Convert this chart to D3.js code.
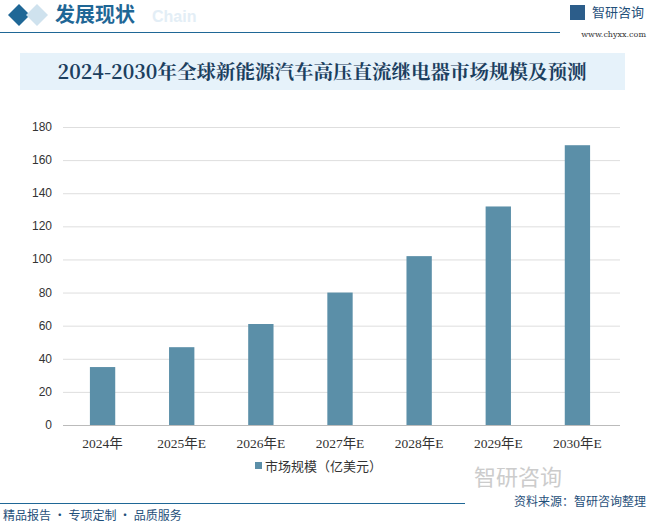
<!DOCTYPE html>
<html><head><meta charset="utf-8">
<script src="https://cdn.jsdelivr.net/npm/d3@7"></script>
<style>body{margin:0;background:#fff;font-family:"Noto Sans CJK SC","Noto Sans",sans-serif}</style>
</head><body><svg width="648" height="525"></svg>
<script>
var WIDTH = 648, HEIGHT = 525;
var years = ["2024年","2025年E","2026年E","2027年E","2028年E","2029年E","2030年E"];
var marketSize = [35, 47, 61, 80, 102, 132, 169];
var yTicks = [0,20,40,60,80,100,120,140,160,180];

var svg = d3.select("svg");
var cjk = "Noto Sans CJK SC";

//header
svg.append("path").attr("d","M8,15 L19,4 L30,15 L19,26 Z").attr("fill","#1f6796");
svg.append("path").attr("d","M26,15 L37,4 L48,15 L37,26 Z").attr("fill","#cfe2ee");
svg.append("text").attr("x",152).attr("y",22).text("Chain").attr("fill","#e3eef6")
  .style("font-family","Liberation Sans").style("font-weight","bold").style("font-size","16px");
svg.append("text").attr("x",55).attr("y",22).text("发展现状").attr("fill","#1f6796")
  .style("font-family",cjk).style("font-weight","bold").style("font-size","20px");
svg.append("line").attr("x1",0).attr("x2",560).attr("y1",32.5).attr("y2",32.5).attr("stroke","#1f6796").attr("stroke-width",1.2);
svg.append("text").attr("x",592).attr("y",17).text("智研咨询").attr("fill","#1f4f7a")
  .style("font-family",cjk).style("font-size","13px");
svg.append("rect").attr("x",570).attr("y",5).attr("width",15).attr("height",15).attr("fill","#2c5d8a");
svg.append("text").attr("x",646).attr("y",37).attr("text-anchor","end").text("www.chyxx.com").attr("fill","#333")
  .style("font-family","DejaVu Serif").style("font-size","8px");

//title box
svg.append("rect").attr("x",20).attr("y",53).attr("width",605).attr("height",37).attr("fill","#e6f2fa");
svg.append("text").attr("x",322).attr("y",79).attr("text-anchor","middle")
  .text("2024-2030年全球新能源汽车高压直流继电器市场规模及预测").attr("fill","#1c3f5f")
  .style("font-family","Noto Serif CJK SC, "+cjk).style("font-weight","bold").style("font-size","19.5px");

//chart
var x = d3.scaleBand().domain(years).range([63, 617]).paddingInner(0.68).paddingOuter(0.34);
var y = d3.scaleLinear().domain([0,180]).range([425, 127]);

svg.append("g").selectAll("line").data(yTicks).enter().append("line")
  .attr("x1",63).attr("x2",620).attr("y1",d=>y(d)+0.5).attr("y2",d=>y(d)+0.5)
  .attr("stroke",d=>d===0?"#bbb":"#dedede");

svg.append("g").selectAll("text").data(yTicks).enter().append("text")
  .attr("x",52).attr("y",d=>y(d)+4).attr("text-anchor","end").text(d=>d)
  .attr("fill","#333").style("font-family","Liberation Sans").style("font-size","12px");

svg.append("g").selectAll("rect").data(marketSize).enter().append("rect")
  .attr("x",(d,i)=>x(years[i])).attr("width",x.bandwidth())
  .attr("y",d=>y(d)).attr("height",d=>y(0)-y(d)).attr("fill","#5b8fa8");

svg.append("g").selectAll("text").data(years).enter().append("text")
  .attr("x",d=>x(d)+x.bandwidth()/2).attr("y",448).attr("text-anchor","middle").text(d=>d)
  .attr("fill","#333").style("font-family","Liberation Serif, "+cjk).style("font-size","13.5px");

//legend
svg.append("rect").attr("x",255).attr("y",462).attr("width",7).attr("height",7).attr("fill","#5b8fa8");
svg.append("text").attr("x",265).attr("y",471).text("市场规模（亿美元）").attr("fill","#333")
  .style("font-family",cjk).style("font-size","13px");

//footer
svg.append("text").attr("x",474).attr("y",485).text("智研咨询").attr("fill","#ccc")
  .style("font-family",cjk).style("font-size","22px");
svg.append("line").attr("x1",0).attr("x2",465).attr("y1",503.5).attr("y2",503.5).attr("stroke","#1f6796").attr("stroke-width",1.2);
svg.append("text").attr("x",646).attr("y",506).attr("text-anchor","end").text("资料来源：智研咨询整理").attr("fill","#1f4f7a")
  .style("font-family",cjk).style("font-size","12px");
svg.append("text").attr("x",3).attr("y",520).text("精品报告 · 专项定制 · 品质服务").attr("fill","#1f4f7a")
  .style("font-family",cjk).style("font-size","12px");
</script></body></html>
